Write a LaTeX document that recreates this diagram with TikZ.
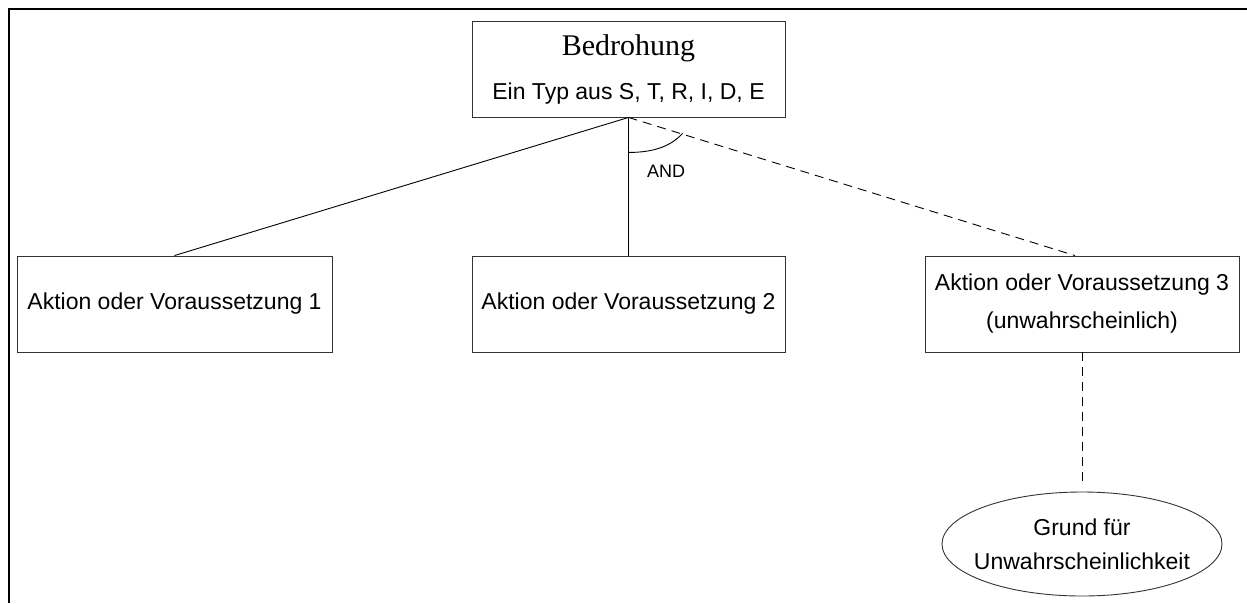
\documentclass[tikz,border=0pt]{standalone}
\usepackage{fontspec}
\setmainfont{Liberation Sans}
\newfontfamily\titlefont{Liberation Serif}
\usetikzlibrary{shapes.geometric,calc}

\tikzset{
  box/.style={draw=black!80, line width=0.9pt, rectangle, inner sep=0pt,
    minimum width=314pt, minimum height=96pt, align=center,
    font=\fontsize{23}{38}\selectfont},
  reason/.style={draw=black!80, line width=0.9pt, ellipse, inner sep=0pt,
    minimum width=280pt, minimum height=104pt},
  reasontext/.style={inner sep=0pt, align=center, font=\fontsize{23}{34}\selectfont},
  link/.style={draw=black, line width=0.9pt},
  weaklink/.style={link, dash pattern=on 9pt off 6pt},
  frameline/.style={draw=black, line width=2pt}
}

\begin{document}
\begin{tikzpicture}[x=1pt, y=-1pt]
  \useasboundingbox (0,0) rectangle (1247,603);

  % outer frame (top and left edges only)
  \coordinate (fbl) at (9,603);
  \coordinate (ftl) at (9,9);
  \coordinate (ftr) at (1247,9);
  \draw[frameline] (fbl) -- (ftl) -- (ftr);

  % threat box
  \node[box, minimum width=313pt, font=\fontsize{23}{44}\selectfont] (threat) at (628.5,69)
    {{\titlefont\fontsize{30}{44}\selectfont Bedrohung}\\Ein Typ aus S, T, R, I, D, E};

  % conditions
  \node[box, minimum width=315pt] (c1) at (174.5,304) {Aktion oder Voraussetzung 1};
  \node[box, minimum width=313pt] (c2) at (628.5,304) {Aktion oder Voraussetzung 2};
  \node[box] (c3) at (1082,304) {Aktion oder Voraussetzung 3\\(unwahrscheinlich)};

  % reason
  \node[reason] (why) at (1082,544) {};
  \node[reasontext] (whytext) at (why.center) {Grund für\\Unwahrscheinlichkeit};

  % connectors
  \coordinate (c3in) at ($(c3.north)+(-7,0)$);
  \draw[link] (threat.south) -- (c1.north);
  \draw[link] (threat.south) -- (c2.north);
  \draw[weaklink] (threat.south) -- (c3in);
  \draw[weaklink, shorten >=9pt] (c3.south) -- (why.north);

  % AND arc between the branches
  \coordinate (arcA) at ($(threat.south)+(0,35)$);
  \coordinate (arcB) at ($(threat.south)+(54,16)$);
  \draw[link] (arcA) .. controls ($(arcA)+(25,0)$) and ($(arcB)+(-12,13)$) .. (arcB);
  \node[anchor=base west, inner sep=0pt, font=\fontsize{18}{18}\selectfont] (andlbl) at (647,177) {AND};
\end{tikzpicture}
\end{document}
